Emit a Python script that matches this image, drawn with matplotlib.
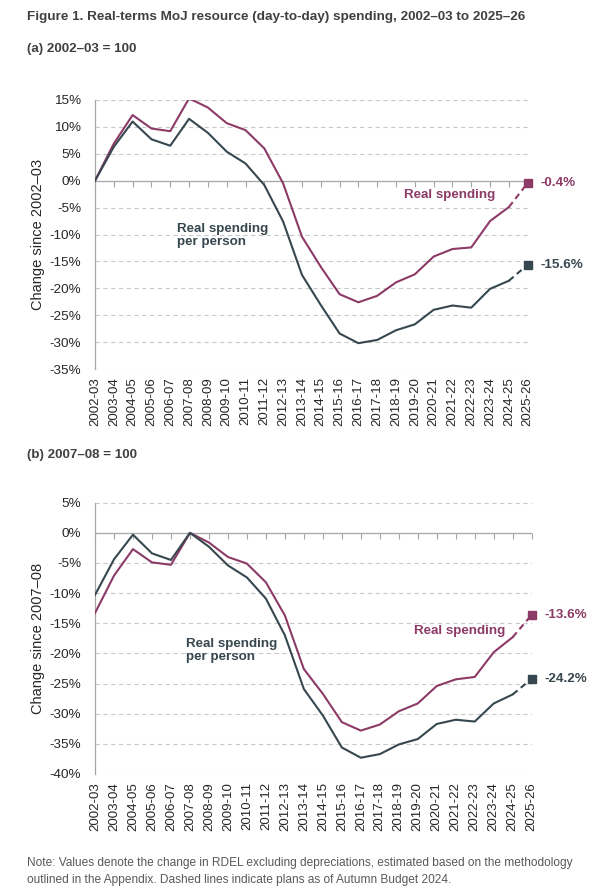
import matplotlib
matplotlib.use("Agg")
import matplotlib.pyplot as plt
import numpy as np

plt.rcParams['font.family'] = ['Liberation Sans', 'DejaVu Sans']

years = ["2002-03", "2003-04", "2004-05", "2005-06", "2006-07", "2007-08", "2008-09",
         "2009-10", "2010-11", "2011-12", "2012-13", "2013-14", "2014-15", "2015-16",
         "2016-17", "2017-18", "2018-19", "2019-20", "2020-21", "2021-22", "2022-23",
         "2023-24", "2024-25", "2025-26"]

# Panel (a): 2002-03 = 100, % change
real_a = [0.0, 6.9, 12.2, 9.7, 9.2, 15.3, 13.6, 10.7, 9.4, 6.0, -0.5, -10.4, -16.0,
          -21.1, -22.6, -21.4, -18.9, -17.4, -14.1, -12.7, -12.4, -7.5, -4.9, -0.4]
perperson_a = [0.0, 6.3, 11.0, 7.7, 6.5, 11.5, 8.9, 5.4, 3.2, -0.8, -7.6, -17.5, -23.1,
               -28.4, -30.2, -29.6, -27.8, -26.7, -24.0, -23.2, -23.6, -20.1, -18.6, -15.6]

# Panel (b): 2007-08 = 100, % change
real_b = [-13.3, -7.1, -2.7, -4.9, -5.3, 0.0, -1.6, -4.0, -5.1, -8.2, -13.7, -22.6, -26.7,
          -31.4, -32.8, -31.8, -29.6, -28.3, -25.4, -24.3, -23.9, -19.8, -17.3, -13.6]
perperson_b = [-10.3, -4.4, -0.3, -3.4, -4.5, 0.0, -2.3, -5.4, -7.4, -10.9, -17.0, -25.9, -30.3,
               -35.6, -37.3, -36.7, -35.1, -34.2, -31.7, -31.0, -31.3, -28.3, -26.8, -24.2]

PURPLE = "#8c3a66"
SLATE = "#37474f"
GRID = "#c8c8c8"
TEXT = "#404040"

fig = plt.figure(figsize=(6.04, 8.93), dpi=100)


def panel(ax, real, pp, ymin, ymax, ylabel, lab_real, lab_pp):
    x = np.arange(len(years))
    ax.set_xlim(0, len(years) - 1)
    ax.set_ylim(ymin, ymax)
    ticks = np.arange(ymin, ymax + 0.1, 5)
    ax.set_yticks(ticks)
    ax.set_yticklabels([f"{int(t)}%" for t in ticks])
    for t in ticks:
        if t != 0:
            ax.axhline(t, color=GRID, lw=0.8, ls=(0, (4, 3)), zorder=0)
    ax.axhline(0, color="#a6a6a6", lw=0.9, zorder=1)
    ax.plot(x, np.zeros(len(x)), ls='none', marker=3, markersize=4,
            markeredgewidth=0.8, color="#a6a6a6", zorder=1, clip_on=False)
    for s in ['top', 'right', 'bottom']:
        ax.spines[s].set_visible(False)
    ax.spines['left'].set_color("#a6a6a6")
    ax.spines['left'].set_linewidth(0.9)
    ax.set_xticks(x)
    ax.set_xticklabels(years, rotation=90, fontsize=9.5, color="#262626")
    ax.tick_params(axis='x', length=0, pad=6)
    ax.tick_params(axis='y', length=0, pad=10, labelsize=9.7, labelcolor="#262626")
    ax.set_ylabel(ylabel, fontsize=10.5, color="#262626", labelpad=3)

    for series, col in ((real, PURPLE), (pp, SLATE)):
        ax.plot(x[:-1], series[:-1], color=col, lw=1.5, zorder=3)
        ax.plot(x[-2:], series[-2:], color=col, lw=1.5, ls=(0, (3, 2)), zorder=3, clip_on=False)
        ax.plot(x[-1], series[-1], marker='s', markersize=6, color=col, zorder=4, clip_on=False)
        ax.annotate(f"{series[-1]:.1f}%", (x[-1], series[-1]), xytext=(9, 0),
                    textcoords='offset points', va='center', ha='left',
                    fontsize=9.7, fontweight='bold', color=col, annotation_clip=False)
    ax.text(lab_real[0], lab_real[1], "Real spending", color=PURPLE, fontsize=9.6,
            fontweight='bold', ha='left', va='center')
    ax.text(lab_pp[0], lab_pp[1], "Real spending\nper person", color=SLATE, fontsize=9.6,
            fontweight='bold', ha='left', va='center', linespacing=1.15)


ax1 = fig.add_axes([95 / 604, 1 - 369 / 893, 432.7 / 604, 269 / 893])
panel(ax1, real_a, perperson_a, -35, 15, "Change since 2002–03", (16.4, -2.7), (4.36, -10.2))

ax2 = fig.add_axes([95 / 604, 1 - 774 / 893, 436.7 / 604, 271.3 / 893])
panel(ax2, real_b, perperson_b, -40, 5, "Change since 2007–08", (16.8, -16.2), (4.8, -19.5))

fig.text(27 / 604, 1 - 17 / 893, "Figure 1. Real-terms MoJ resource (day-to-day) spending, 2002–03 to 2025–26",
         fontsize=9.7, fontweight='bold', color=TEXT, va='center', ha='left')
fig.text(27 / 604, 1 - 49 / 893, "(a) 2002–03 = 100", fontsize=9.6, fontweight='bold',
         color=TEXT, va='center', ha='left')
fig.text(27 / 604, 1 - 455 / 893, "(b) 2007–08 = 100", fontsize=9.6, fontweight='bold',
         color=TEXT, va='center', ha='left')
fig.text(27 / 604, 1 - 863 / 893,
         "Note: Values denote the change in RDEL excluding depreciations, estimated based on the methodology",
         fontsize=8.6, color="#595959", va='center', ha='left')
fig.text(27 / 604, 1 - 880 / 893,
         "outlined in the Appendix. Dashed lines indicate plans as of Autumn Budget 2024.",
         fontsize=8.6, color="#595959", va='center', ha='left')

fig.savefig("out.png", dpi=100)
